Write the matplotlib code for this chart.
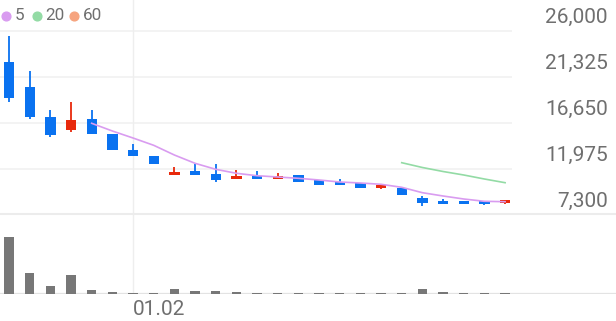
import matplotlib
matplotlib.use("Agg")
import matplotlib.pyplot as plt
from matplotlib.lines import Line2D

plt.rcParams['font.family'] = ['Roboto', 'DejaVu Sans']

# daily candles (25 sessions), prices
opens = [22910, 20370, 17260, 15940, 17057, 15560, 13967, 13357, 11396, 11802,
         11467, 10989, 11274, 10989, 11365, 10918, 10654, 10552, 10075, 10105,
         9058, 8682, 8682, 8753, 8550]
highs = [25553, 21996, 17970, 18845, 17970, 15560, 14516, 13357, 12209, 12483,
         12463, 11934, 11782, 11579, 11365, 10918, 10959, 10552, 10481, 10105,
         9262, 8926, 8682, 8753, 8825]
lows = [18845, 17057, 15290, 15735, 15560, 13940, 13296, 12514, 11396, 11396,
        10735, 10989, 10989, 10989, 10684, 10410, 10379, 10105, 9942, 9333,
        8276, 8479, 8449, 8347, 8418]
closes = [19190, 17260, 15460, 16955, 15560, 13940, 13296, 12514, 11670, 11396,
          10867, 11264, 10989, 11244, 10684, 10410, 10379, 10105, 10247, 9333,
          8520, 8479, 8449, 8479, 8825]
volumes = [573, 210, 83, 190, 40, 23, 12, 12, 50, 30, 33, 23, 14, 12, 9,
           12, 14, 8, 9, 14, 46, 17, 12, 9, 6]

ma5 = [16650, 15867, 15156, 14414, 13428, 12585, 11975, 11569, 11325, 11193,
       11060, 10888, 10684, 10583, 10451, 10146, 9597, 9262, 8957, 8723, 8682]
ma5_start = 4
ma20 = [12646, 12158, 11751, 11396, 10989, 10613]
ma20_start = 19

price_ticks = [26000, 21325, 16650, 11975, 7300]
date_idx = 6
date_label = "01.02"

legend_items = [("5", "#d99cf0"), ("20", "#93dba5"), ("60", "#f6a47f")]

up_color = "#e8290c"
down_color = "#0a72f0"
grid_color = "#f1f1f1"
text_color = "#6f6f6f"

W, H = 616, 321
fig = plt.figure(figsize=(W / 100, H / 100), dpi=100)


def fx(px):
    return px / W


def fy(py):
    return 1 - py / H


step = 20.67
x0 = 9
ax = fig.add_axes([0, fy(220), fx(512), 220 / H])
ax.set_xlim(-x0 / step, (512 - x0) / step)
ax.set_ylim(26000 - (220 - 31.3) * 101.63, 26000 + 31.3 * 101.63)
ax.axis('off')

for t in price_ticks:
    if t != price_ticks[-1]:
        ax.axhline(t, color=grid_color, lw=1.2, zorder=0)
    ax.annotate(f"{t:,}", xy=(608 / 512, t), xycoords=('axes fraction', 'data'),
                xytext=(0, 9.8), textcoords='offset points', ha='right',
                va='center', fontsize=15, color=text_color, annotation_clip=False)
ax.axvline(date_idx, color="#eeeeee", lw=1, zorder=0)

idx = list(range(len(opens)))
for i in idx:
    o, h, l, c = opens[i], highs[i], lows[i], closes[i]
    col = up_color if c > o else down_color
    ax.vlines(i, l, h, color=col, lw=1.3, zorder=2)
    bottom = min(o, c)
    height = max(abs(c - o), 260)
    ax.bar(i, height, bottom=bottom, width=0.5, color=col, zorder=3)

ax.plot(range(ma5_start, ma5_start + len(ma5)), ma5, color="#d99cf0", lw=1.2, zorder=4)
ax.plot(range(ma20_start, ma20_start + len(ma20)), ma20, color="#93dba5", lw=1.2, zorder=4)

vax = fig.add_axes([0, fy(294), 1, (294 - 220) / H])
vax.set_xlim(-x0 / step, (W - x0) / step)
vax.set_ylim(0, 740)
vax.axis('off')
vax.axvline(date_idx, color="#eeeeee", lw=1, zorder=0)
vax.axhline(0, color="#e3e3e3", lw=1.6, zorder=1)
vax.bar(idx, volumes, width=0.45, color="#777777", zorder=3)
vax.annotate(date_label, xy=(date_idx, 0), xycoords='data', xytext=(0, -11.5),
             textcoords='offset points', ha='left', va='center', fontsize=15,
             color=text_color, annotation_clip=False)

# separator under the price panel
fig.add_artist(Line2D([0, 1], [fy(213.5), fy(213.5)], transform=fig.transFigure,
                      color="#ececec", lw=1.5))

# legend
circle_x = [6, 37.3, 74]
text_x = [14.5, 45.5, 82.5]
for (lab, col), cx, tx in zip(legend_items, circle_x, text_x):
    fig.add_artist(Line2D([fx(cx)], [fy(15.7)], transform=fig.transFigure,
                          marker='o', markersize=6.3, color=col, lw=0))
    fig.text(fx(tx), fy(15.7), lab, ha='left', va='center', fontsize=12.3,
             color=text_color)

fig.savefig("out.png", dpi=100)
